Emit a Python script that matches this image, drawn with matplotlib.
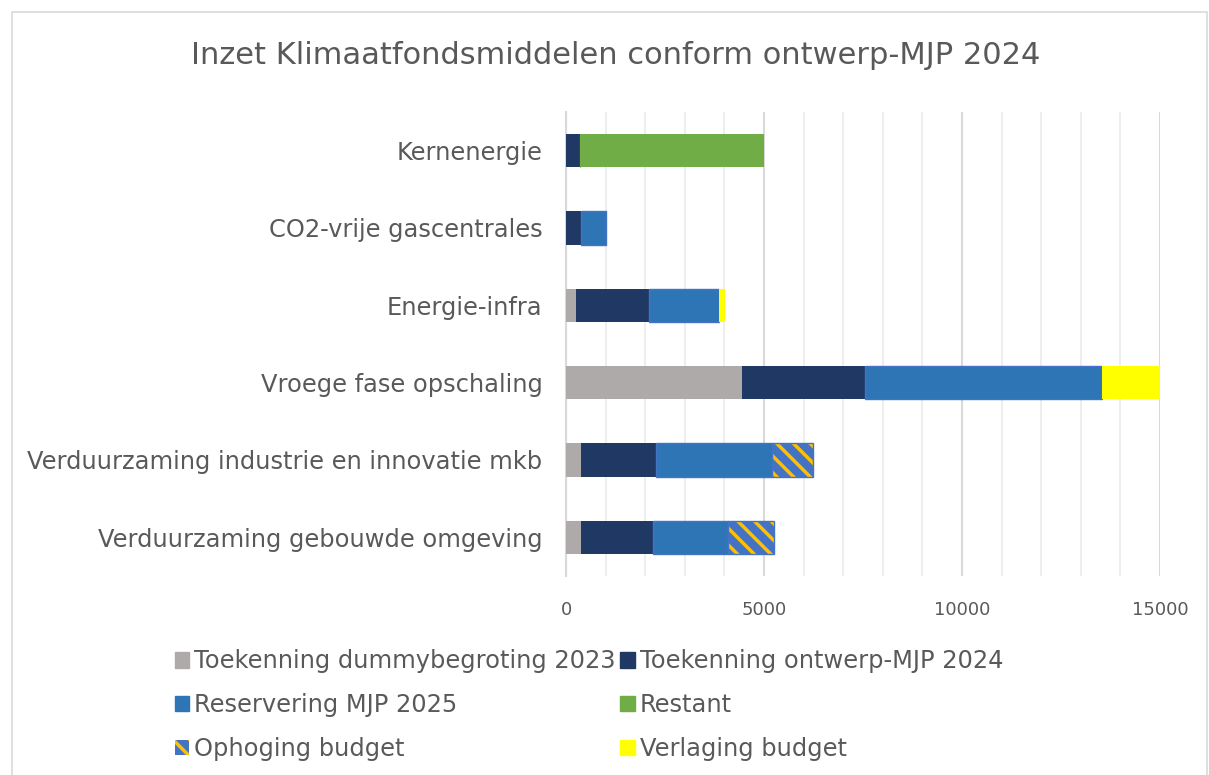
import numpy as np
from matplotlib import pyplot as plt
from matplotlib.patches import Patch, Rectangle

# categories, top to bottom as in the chart
categories = ['Kernenergie', 'CO2-vrije gascentrales', 'Energie-infra',
              'Vroege fase opschaling', 'Verduurzaming industrie en innovatie mkb',
              'Verduurzaming gebouwde omgeving']

dummy_2023 = [0, 0, 260, 4440, 380, 370]
ontwerp_2024 = [350, 375, 1840, 3100, 1890, 1830]
reservering_2025 = [0, 625, 1770, 6000, 2920, 1880]
restant = [4650, 0, 0, 0, 0, 0]
ophoging = [0, 0, 0, 0, 1050, 1160]
verlaging = [0, 0, 150, 1460, 0, 0]

labels = ['Toekenning dummybegroting 2023', 'Toekenning ontwerp-MJP 2024',
          'Reservering MJP 2025', 'Restant', 'Ophoging budget', 'Verlaging budget']

text_col = '#595959'


def main():
    plt.rcParams['font.family'] = 'DejaVu Sans'
    plt.rcParams['hatch.linewidth'] = 2.5

    fig = plt.figure(figsize=(12.09, 7.75), dpi=100)
    ax = fig.add_axes([0.4682, 0.2568, 0.4913, 0.5987])

    y = np.arange(len(categories))
    h = 0.43
    left = np.zeros(len(categories))

    series = [dummy_2023, ontwerp_2024, reservering_2025, restant, ophoging, verlaging]
    styles = [
        dict(color='#AEAAAA'),
        dict(color='#203864'),
        dict(color='#2E75B6', edgecolor='#4472C4', linewidth=1),
        dict(color='#70AD47'),
        dict(facecolor='#4472C4', edgecolor='#FFC000', linewidth=0, hatch='\\\\'),
        dict(color='#FFFF00'),
    ]
    starts = []
    for vals, st in zip(series, styles):
        vals = np.array(vals, dtype=float)
        ax.barh(y, vals, h, left=left, zorder=3, **st)
        starts.append(left.copy())
        left += vals

    # outline for the hatched part
    oph = np.array(ophoging, dtype=float)
    m = oph > 0
    ax.barh(y[m], oph[m], h, left=starts[4][m],
            fill=False, edgecolor='#4472C4', linewidth=1, zorder=4)

    ax.set_xlim(0, 15000)
    ax.set_ylim(len(categories) - 0.5, -0.5)
    ax.set_yticks(y)
    ax.set_yticklabels(categories, fontsize=17.4, color=text_col)
    ax.set_xticks([0, 5000, 10000, 15000])
    ax.set_xticks(np.arange(0, 15001, 1000), minor=True)
    ax.tick_params(axis='x', which='both', length=0, labelsize=13,
                   labelcolor=text_col, pad=18)
    ax.tick_params(axis='y', length=0, pad=17)
    ax.grid(axis='x', which='minor', color='#EBEBEB', linewidth=1.2, zorder=0)
    ax.grid(axis='x', which='major', color='#D9D9D9', linewidth=1.5, zorder=0)
    for s in ['top', 'right', 'bottom']:
        ax.spines[s].set_visible(False)
    ax.spines['left'].set_color('#D9D9D9')
    ax.spines['left'].set_linewidth(1.5)

    fig.text(0.509, 0.929, 'Inzet Klimaatfondsmiddelen conform ontwerp-MJP 2024',
             ha='center', va='center', fontsize=22, color=text_col)

    handles = [Patch(**st) for st in styles]
    order = [0, 2, 4, 1, 3, 5]
    fig.legend([handles[i] for i in order], [labels[i] for i in order],
               loc='center', bbox_to_anchor=(0.487, 0.090), ncol=2, frameon=False,
               fontsize=17.4, labelcolor=text_col, handlelength=0.6,
               handleheight=0.6, handletextpad=0.2, columnspacing=0.2,
               labelspacing=0.82)

    fig.patches.append(Rectangle((12 / 1209, -0.01), 1195 / 1209, 1 - 12 / 775 + 0.01,
                                 transform=fig.transFigure, fill=False,
                                 edgecolor='#D9D9D9', linewidth=1.2))

    fig.savefig('out.png', dpi=100)


if __name__ == '__main__':
    main()
